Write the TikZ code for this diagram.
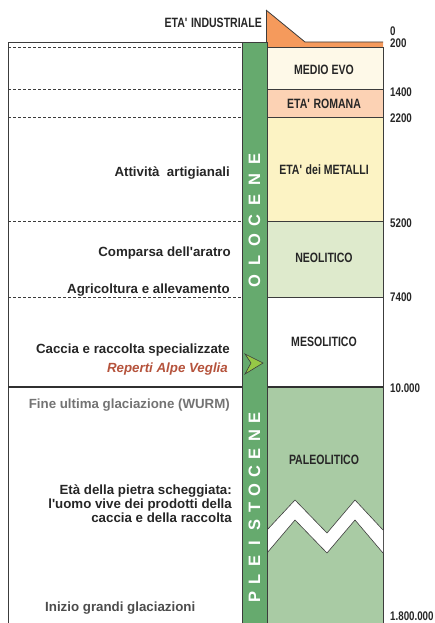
\documentclass[tikz,border=0pt]{standalone}
\usepackage{fontspec}
\setmainfont{Liberation Sans}
\newfontfamily\narrowfont{Liberation Sans}[FakeStretch=0.78]
\newcommand\ap{\textquotesingle}
\definecolor{bargreen}{RGB}{102,170,110}
\definecolor{industria}{RGB}{245,154,92}
\definecolor{medio}{RGB}{254,249,232}
\definecolor{romana}{RGB}{252,210,180}
\definecolor{metalli}{RGB}{252,243,196}
\definecolor{neolit}{RGB}{222,234,204}
\definecolor{paleolit}{RGB}{169,203,164}
\definecolor{reperti}{RGB}{181,83,60}
\definecolor{edge}{RGB}{60,60,60}
\definecolor{freccia}{RGB}{150,200,70}
\tikzset{
  event/.style={anchor=east, inner sep=0pt, text=black!85, font=\bfseries\fontsize{13.3}{14}\selectfont},
  age/.style={inner sep=0pt, text=black!85, font=\narrowfont\bfseries\fontsize{13.5}{14}\selectfont},
  year/.style={anchor=west, inner sep=0pt, text=black!85, font=\narrowfont\bfseries\fontsize{12.5}{12.5}\selectfont},
  epoch/.style={rotate=90, inner sep=0pt, text=white, font=\bfseries\fontsize{16.5}{16.5}\selectfont},
  band/.style={draw=edge, line width=0.8pt},
  gapline/.style={draw=edge, line width=0.6pt, dash pattern=on 3pt off 2pt},
}

\begin{document}
\begin{tikzpicture}[x=1pt, y=-1pt]
			%%%%% START %%%%%
			\useasboundingbox (0, 0) rectangle (435, 623);
			
			% periodi
			\fill[industria] (266, 10) -- (305, 42) -- (383, 42) -- (383, 47) -- (266, 47) -- cycle;
			\draw[band] (266, 10) -- (305, 42) -- (383, 42);
			\draw[band, fill=medio] (267, 47) rectangle (383, 89);
			\draw[band, fill=romana] (267, 89) rectangle (383, 117);
			\draw[band, fill=metalli] (267, 117) rectangle (383, 221);
			\draw[band, fill=neolit] (267, 221) rectangle (383, 297);
			\draw[band, fill=white] (267, 297) rectangle (383, 387);
			\draw[band, fill=paleolit] (267, 387) rectangle (383, 630);
			\draw[band] (266, 10) -- (266, 47);
			
			% interruzione
			\fill[white] (267, 530) -- (295, 500) -- (327, 533) -- (355, 500) -- (383, 530)
			  -- (383, 553) -- (355, 520) -- (327, 553) -- (295, 520) -- (267, 553) -- cycle;
			\draw[band, line width=0.6pt] (267, 530) -- (295, 500) -- (327, 533) -- (355, 500) -- (383, 530);
			\draw[band, line width=0.6pt] (267, 553) -- (295, 520) -- (327, 553) -- (355, 520) -- (383, 553);
			
			% colonna sinistra
			\draw[band] (8, 630) -- (8, 42) -- (242, 42);
			\draw[gapline] (8, 47) -- (242, 47);
			\draw[gapline] (8, 89) -- (242, 89);
			\draw[gapline] (8, 117) -- (242, 117);
			\draw[gapline] (8, 221) -- (242, 221);
			\draw[gapline] (8, 297) -- (242, 297);
			\draw[draw=edge!80!black, line width=2pt] (8, 387) -- (383, 387);
			
			% barra epoche
			\draw[band, fill=bargreen] (242, 42) rectangle (267, 630);
			\foreach \l [count=\i] in {O,L,O,C,E,N,E}
			  \node[epoch] (olo-\i) at (254.5, {281-20.3*(\i-1)}) {\l};
			\foreach \l [count=\i] in {P,L,E,I,S,T,O,C,E,N,E}
			  \node[epoch] (ple-\i) at (254.5, {597-17.9*(\i-1)}) {\l};
			\draw[draw=edge, line width=0.6pt, fill=freccia] (245, 354) -- (263, 363) -- (245, 374) -- (251, 363) -- cycle;
			
			% nomi dei periodi
			\node[age, anchor=east] (industriale) at (262, 23) {ETA\ap{} INDUSTRIALE};
			\node[age] (medioevo) at (324, 70) {MEDIO EVO};
			\node[age] (romana) at (324, 103.5) {ETA\ap{} ROMANA};
			\node[age] (metalli) at (324, 170) {ETA\ap{} dei METALLI};
			\node[age] (neolitico) at (324, 258) {NEOLITICO};
			\node[age] (mesolitico) at (324, 342) {MESOLITICO};
			\node[age] (paleolitico) at (324, 460) {PALEOLITICO};
			
			% anni
			\node[year] (y0) at (390, 31.5) {0};
			\node[year] (y200) at (390, 43.5) {200};
			\node[year] (y1400) at (390, 92) {1400};
			\node[year] (y2200) at (390, 118) {2200};
			\node[year] (y5200) at (390, 223) {5200};
			\node[year] (y7400) at (390, 297.5) {7400};
			\node[year] (y10000) at (390, 388.5) {10.000};
			\node[year] (y1800000) at (390, 616) {1.800.000};
			
			% eventi
			\node[event] (artigianali) at (230, 173) {Attività\ \ artigianali};
			\node[event] (aratro) at (231, 253) {Comparsa dell\ap{}aratro};
			\node[event] (agricoltura) at (230, 290) {Agricoltura e allevamento};
			\node[event] (caccia) at (230, 350) {Caccia e raccolta specializzate};
			\node[event, text=reperti, font=\bfseries\itshape\fontsize{13.3}{14}\selectfont] (reperti) at (228, 369) {Reperti Alpe Veglia};
			\node[event, text=black!55] (wurm) at (230, 405) {Fine ultima glaciazione (WURM)};
			\node[event, align=right] (pietra) at (232, 503.5) {Età della pietra scheggiata:\\l\ap{}uomo vive dei prodotti della\\caccia e della raccolta};
			\node[event, anchor=west, text=black!70] (glaciazioni) at (45, 608) {Inizio grandi glaciazioni};
			
			%%%%% END %%%%%
\end{tikzpicture}
\end{document}
